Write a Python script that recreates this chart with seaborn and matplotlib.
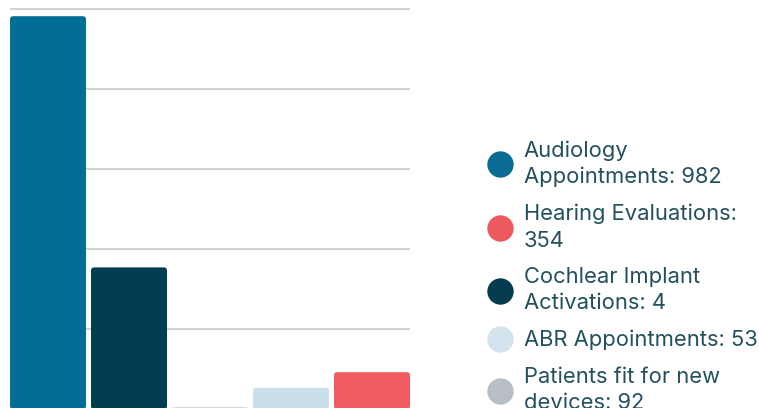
import seaborn as sns
import pandas as pd
from matplotlib import pyplot as plt
from matplotlib.lines import Line2D
from matplotlib.patches import FancyBboxPatch

# bar order as drawn in the picture
bar_names = ["Audiology Appointments", "Cochlear bar", "Gray bar", "ABR Appointments", "Red bar"]
bar_values = [982, 354, 4, 53, 92]
bar_colors = ["#026d95", "#033d51", "#b7bdc5", "#c9dfea", "#ef5b5f"]

legend_labels = [
    "Audiology\nAppointments: 982",
    "Hearing Evaluations:\n354",
    "Cochlear Implant\nActivations: 4",
    "ABR Appointments: 53",
    "Patients fit for new\ndevices: 92",
]
legend_colors = ["#0b6d94", "#ec5a5f", "#053c50", "#d3e3ed", "#b8bec6"]

text_color = "#23505e"

sns.set_theme(style="white")
plt.rcParams['font.family'] = ['Inter', 'DejaVu Sans']

fig = plt.figure(figsize=(7.59, 4.08), dpi=100)
W, H = 759, 408
ax = fig.add_axes([10 / W, -1 / H, 400 / W, 409 / H])

df = pd.DataFrame({"name": bar_names, "value": bar_values})
width = 76 / 81
sns.barplot(data=df, x="name", y="value", hue="name", palette=bar_colors,
            legend=False, width=width, saturation=1, ax=ax, zorder=2)

ax.set_xlim(-width / 2, len(bar_values) - 1 + width / 2)
ax.set_ylim(0, 1022.5)
ax.set_yticks([0, 200, 400, 600, 800, 1000])
ax.yaxis.grid(True, color="#d3d3d3", linewidth=1.5, zorder=0)
ax.set_axisbelow(True)
ax.set_xlabel("")
ax.set_ylabel("")
ax.set_xticklabels([])
ax.set_yticklabels([])
ax.tick_params(length=0)
sns.despine(ax=ax, left=True, bottom=True)

# swap plain bars for bars with rounded corners
for p in list(ax.patches):
    x, y = p.get_x(), p.get_y()
    w, h = p.get_width(), p.get_height()
    rounded = FancyBboxPatch((x, y), w, h,
                             boxstyle="round,pad=0,rounding_size=0.04",
                             mutation_aspect=200, facecolor=p.get_facecolor(),
                             edgecolor="none", zorder=2)
    p.remove()
    ax.add_patch(rounded)

handles = [Line2D([], [], marker="o", linestyle="none", markersize=19,
                  markerfacecolor=c, markeredgecolor="none") for c in legend_colors]
leg = fig.legend(handles, legend_labels, loc="center left",
                 bbox_to_anchor=(478 / W, 0.322), frameon=False,
                 fontsize=15.8, labelcolor=text_color, handletextpad=0.58,
                 handlelength=1.0, labelspacing=0.76, borderpad=0)
for t in leg.get_texts():
    t.set_linespacing(1.38)

fig.savefig("out.png", dpi=100)
